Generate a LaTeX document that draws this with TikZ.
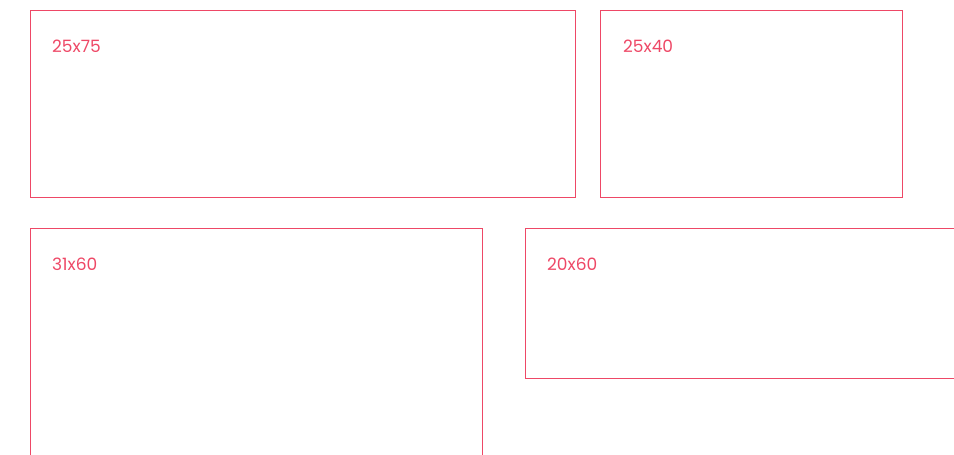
\documentclass[tikz,border=0pt]{standalone}
\usepackage{fontspec}
\setmainfont{Poppins}
\definecolor{boxred}{HTML}{EE4866}
\begin{document}
\begin{tikzpicture}[x=1pt,y=-1pt,
  panel/.style={draw=boxred,line width=1pt},
  lbl/.style={text=boxred,font=\fontsize{17}{20}\selectfont,anchor=base west,inner sep=0pt}]
\useasboundingbox (0,0) rectangle (954,455);
\clip (0,0) rectangle (954,455);
\draw[panel] (30.5,10.5) rectangle (575.5,197.5);
\draw[panel] (600.5,10.5) rectangle (902.5,197.5);
\draw[panel] (30.5,228.5) rectangle (482.5,470);
\draw[panel] (525.5,228.5) rectangle (970,378.5);
\node[lbl] (a) at (52,52.5) {25x75};
\node[lbl] (b) at (623,52.5) {25x40};
\node[lbl] (c) at (52,270.5) {31x60};
\node[lbl] (d) at (547,270.5) {20x60};
\end{tikzpicture}
\end{document}
